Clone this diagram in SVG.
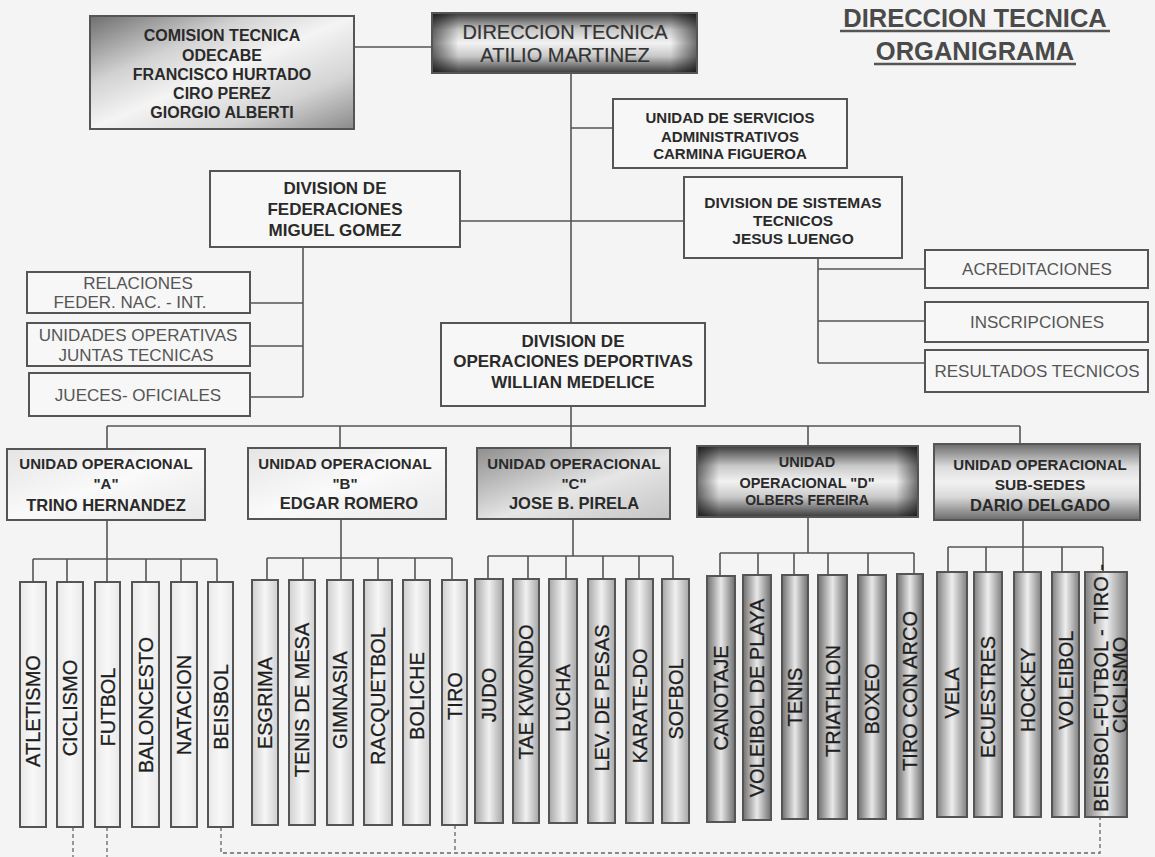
<svg xmlns="http://www.w3.org/2000/svg" width="1155" height="857" viewBox="0 0 1155 857">
<defs>
<style>
.bx{stroke:#555;stroke-width:2}
.lt{fill:#f7f7f7}
.ln{stroke:#555;stroke-width:1.6;fill:none}
.ds{stroke:#666;stroke-width:1.3;fill:none;stroke-dasharray:4 3}
.tb{font-family:"Liberation Sans",Arial,sans-serif;font-weight:bold;fill:#2a2a2a;text-anchor:middle}
.tr{font-family:"Liberation Sans",Arial,sans-serif;fill:#555;text-anchor:middle;font-size:17px}
.sp{font-family:"Liberation Sans",Arial,sans-serif;fill:#1e1e1e;stroke:#1e1e1e;stroke-width:0.3;text-anchor:middle;font-size:20px}
.ttl{font-family:"Liberation Sans",Arial,sans-serif;font-weight:bold;fill:#4a4a4a;text-anchor:middle;font-size:25.5px}
.dt{font-family:"Liberation Sans",Arial,sans-serif;fill:#333;stroke:#333;stroke-width:0.2;text-anchor:middle;font-size:20px}
</style>
<linearGradient id="gCom" x1="0" y1="0" x2="1" y2="1">
<stop offset="0" stop-color="#6e6e6e"/><stop offset="0.3" stop-color="#d2d2d2"/><stop offset="0.5" stop-color="#f4f4f4"/><stop offset="0.75" stop-color="#d4d4d4"/><stop offset="1" stop-color="#8a8a8a"/>
</linearGradient>
<linearGradient id="gDarkV" x1="0" y1="0" x2="0" y2="1">
<stop offset="0" stop-color="#3a3a3a"/><stop offset="0.28" stop-color="#c8c8c8"/><stop offset="0.5" stop-color="#f2f2f2"/><stop offset="0.72" stop-color="#c8c8c8"/><stop offset="1" stop-color="#3a3a3a"/>
</linearGradient>
<linearGradient id="gEdgeH" x1="0" y1="0" x2="1" y2="0">
<stop offset="0" stop-color="#000" stop-opacity="0.55"/><stop offset="0.1" stop-color="#000" stop-opacity="0"/><stop offset="0.9" stop-color="#000" stop-opacity="0"/><stop offset="1" stop-color="#000" stop-opacity="0.55"/>
</linearGradient>
<linearGradient id="gUA" x1="0" y1="0" x2="1" y2="1">
<stop offset="0" stop-color="#e4e4e4"/><stop offset="0.5" stop-color="#fafafa"/><stop offset="1" stop-color="#e8e8e8"/>
</linearGradient>
<linearGradient id="gUC" x1="0" y1="0" x2="1" y2="1">
<stop offset="0" stop-color="#8e8e8e"/><stop offset="0.55" stop-color="#e6e6e6"/><stop offset="1" stop-color="#c4c4c4"/>
</linearGradient>
<linearGradient id="gUE" x1="0" y1="0" x2="0" y2="1">
<stop offset="0" stop-color="#6a6a6a"/><stop offset="0.3" stop-color="#dcdcdc"/><stop offset="0.5" stop-color="#f2f2f2"/><stop offset="0.7" stop-color="#d8d8d8"/><stop offset="1" stop-color="#6a6a6a"/>
</linearGradient>
<linearGradient id="cA" x1="0" y1="0" x2="1" y2="0">
<stop offset="0" stop-color="#e8e8e8"/><stop offset="0.5" stop-color="#f8f8f8"/><stop offset="1" stop-color="#e8e8e8"/>
</linearGradient>
<linearGradient id="cB" x1="0" y1="0" x2="1" y2="0">
<stop offset="0" stop-color="#cfcfcf"/><stop offset="0.5" stop-color="#f6f6f6"/><stop offset="1" stop-color="#cfcfcf"/>
</linearGradient>
<linearGradient id="cC" x1="0" y1="0" x2="1" y2="0">
<stop offset="0" stop-color="#a6a6a6"/><stop offset="0.5" stop-color="#f0f0f0"/><stop offset="1" stop-color="#a6a6a6"/>
</linearGradient>
<linearGradient id="cD" x1="0" y1="0" x2="1" y2="0">
<stop offset="0" stop-color="#6e6e6e"/><stop offset="0.5" stop-color="#e8e8e8"/><stop offset="1" stop-color="#6e6e6e"/>
</linearGradient>
<linearGradient id="cE" x1="0" y1="0" x2="1" y2="0">
<stop offset="0" stop-color="#808080"/><stop offset="0.5" stop-color="#eeeeee"/><stop offset="1" stop-color="#808080"/>
</linearGradient>
</defs>
<rect width="1155" height="857" fill="#f4f4f4"/>

<g id="titulo">
<text class="ttl" x="975" y="27">DIRECCION TECNICA</text>
<text class="ttl" x="975" y="60">ORGANIGRAMA</text>
<line x1="840" y1="31" x2="1110" y2="31" stroke="#555" stroke-width="2.5"/>
<line x1="874" y1="64" x2="1076" y2="64" stroke="#555" stroke-width="2.5"/>
</g>

<g id="connectors">
<line class="ln" x1="354" y1="47" x2="432" y2="47"/>
<line class="ln" x1="571" y1="73" x2="571" y2="323"/>
<line class="ln" x1="571" y1="128" x2="613" y2="128"/>
<line class="ln" x1="460" y1="221" x2="684" y2="221"/>
<line class="ln" x1="303" y1="247" x2="303" y2="397"/>
<line class="ln" x1="250" y1="303" x2="303" y2="303"/>
<line class="ln" x1="250" y1="346" x2="303" y2="346"/>
<line class="ln" x1="250" y1="397" x2="303" y2="397"/>
<line class="ln" x1="818" y1="258" x2="818" y2="363"/>
<line class="ln" x1="818" y1="269" x2="925" y2="269"/>
<line class="ln" x1="818" y1="321" x2="925" y2="321"/>
<line class="ln" x1="818" y1="363" x2="925" y2="363"/>
<line class="ln" x1="571" y1="406" x2="571" y2="448"/>
<line class="ln" x1="107" y1="426" x2="1020" y2="426"/>
<line class="ln" x1="107" y1="426" x2="107" y2="449"/>
<line class="ln" x1="340" y1="426" x2="340" y2="448"/>
<line class="ln" x1="808" y1="426" x2="808" y2="446"/>
<line class="ln" x1="1020" y1="426" x2="1020" y2="444"/>
<line class="ln" x1="107" y1="520" x2="107" y2="582"/>
<line class="ln" x1="33" y1="559" x2="217" y2="559"/>
<path class="ln" d="M33 559V582M67 559V582M146 559V582M181 559V582M217 559V582"/>
<line class="ln" x1="341" y1="519" x2="341" y2="580"/>
<line class="ln" x1="267" y1="558" x2="452" y2="558"/>
<path class="ln" d="M267 558V580M303 558V580M378 558V580M415 558V580M452 558V580"/>
<line class="ln" x1="573" y1="519" x2="573" y2="556"/>
<line class="ln" x1="488" y1="556" x2="673" y2="556"/>
<path class="ln" d="M488 556V579M528 556V579M566 556V579M603 556V579M639 556V579M673 556V579"/>
<line class="ln" x1="808" y1="517" x2="808" y2="553"/>
<line class="ln" x1="720" y1="553" x2="914" y2="553"/>
<path class="ln" d="M720 553V576M758 553V575M794 553V575M828 553V575M868 553V575M914 553V574"/>
<line class="ln" x1="1023" y1="520" x2="1023" y2="572"/>
<line class="ln" x1="948" y1="547" x2="1103" y2="547"/>
<path class="ln" d="M948 547V572M986 547V572M1062 547V572M1103 547V572"/>
<path class="ds" d="M73 827V857M107 827V857M221 827V853H1100V817M455 825V853"/>
</g>

<g id="comision">
<rect class="bx" x="90" y="16" width="264" height="113" fill="url(#gCom)"/>
<g class="tb" font-size="16">
<text x="222" y="40.5">COMISION TECNICA</text>
<text x="222" y="60.5">ODECABE</text>
<text x="222" y="79.5">FRANCISCO HURTADO</text>
<text x="222" y="98.5">CIRO PEREZ</text>
<text x="222" y="117.5">GIORGIO ALBERTI</text>
</g>
</g>

<g id="direccion">
<rect x="432" y="13" width="265" height="60" fill="url(#gDarkV)"/>
<rect class="bx" x="432" y="13" width="265" height="60" fill="url(#gEdgeH)"/>
<text class="dt" x="565" y="39">DIRECCION TECNICA</text>
<text class="dt" x="565" y="62">ATILIO MARTINEZ</text>
</g>

<g id="servicios">
<rect class="bx lt" x="613" y="99" width="234" height="69"/>
<g class="tb" font-size="15">
<text x="730" y="122.5">UNIDAD DE SERVICIOS</text>
<text x="730" y="141.5">ADMINISTRATIVOS</text>
<text x="730" y="158.5">CARMINA FIGUEROA</text>
</g>
</g>

<g id="sistemas">
<rect class="bx lt" x="684" y="177" width="218" height="81"/>
<g class="tb" font-size="15.5">
<text x="793" y="207.5">DIVISION DE SISTEMAS</text>
<text x="793" y="225.5">TECNICOS</text>
<text x="793" y="243.5">JESUS LUENGO</text>
</g>
</g>

<g id="federaciones">
<rect class="bx lt" x="210" y="171" width="250" height="76"/>
<g class="tb" font-size="17">
<text x="335" y="194">DIVISION DE</text>
<text x="335" y="215">FEDERACIONES</text>
<text x="335" y="236">MIGUEL GOMEZ</text>
</g>
</g>

<g id="relaciones">
<rect class="bx lt" x="27" y="272" width="223" height="41"/>
<text class="tr" x="138" y="289">RELACIONES</text>
<text class="tr" x="130" y="308">FEDER. NAC. - INT.</text>
</g>
<g id="unidades-operativas">
<rect class="bx lt" x="27" y="323" width="223" height="43"/>
<text class="tr" x="138" y="341">UNIDADES OPERATIVAS</text>
<text class="tr" x="136" y="361">JUNTAS TECNICAS</text>
</g>
<g id="jueces">
<rect class="bx lt" x="29" y="373" width="221" height="43"/>
<text class="tr" x="138" y="401">JUECES- OFICIALES</text>
</g>

<g id="acreditaciones">
<rect class="bx lt" x="925" y="250" width="223" height="38"/>
<text class="tr" x="1037" y="275">ACREDITACIONES</text>
</g>
<g id="inscripciones">
<rect class="bx lt" x="925" y="302" width="223" height="40"/>
<text class="tr" x="1037" y="328">INSCRIPCIONES</text>
</g>
<g id="resultados">
<rect class="bx lt" x="925" y="350" width="223" height="42"/>
<text class="tr" x="1037" y="377">RESULTADOS TECNICOS</text>
</g>

<g id="operaciones">
<rect class="bx lt" x="441" y="323" width="264" height="83"/>
<g class="tb" font-size="17">
<text x="573" y="347">DIVISION DE</text>
<text x="573" y="367">OPERACIONES DEPORTIVAS</text>
<text x="573" y="388">WILLIAN MEDELICE</text>
</g>
</g>

<g id="unidad-a">
<rect class="bx" x="7" y="449" width="198" height="71" fill="url(#gUA)"/>
<text class="tb" x="106" y="469" font-size="15">UNIDAD OPERACIONAL</text>
<text class="tb" x="106" y="489" font-size="15">"A"</text>
<text class="tb" x="106" y="511" font-size="16.5">TRINO HERNANDEZ</text>
</g>
<g id="unidad-b">
<rect class="bx" x="248" y="448" width="198" height="71" fill="url(#gUA)"/>
<text class="tb" x="345" y="469" font-size="15">UNIDAD OPERACIONAL</text>
<text class="tb" x="345" y="489" font-size="15">"B"</text>
<text class="tb" x="349" y="509" font-size="16.5">EDGAR ROMERO</text>
</g>
<g id="unidad-c">
<rect class="bx" x="477" y="448" width="193" height="71" fill="url(#gUC)"/>
<text class="tb" x="574" y="469" font-size="15">UNIDAD OPERACIONAL</text>
<text class="tb" x="574" y="489" font-size="15">"C"</text>
<text class="tb" x="574" y="509" font-size="16.5">JOSE B. PIRELA</text>
</g>
<g id="unidad-d">
<rect x="697" y="446" width="221" height="71" fill="url(#gDarkV)"/>
<rect class="bx" x="697" y="446" width="221" height="71" fill="url(#gEdgeH)"/>
<text class="tb" x="807" y="467" font-size="14.5">UNIDAD</text>
<text class="tb" x="807" y="488" font-size="14.5">OPERACIONAL "D"</text>
<text class="tb" x="807" y="505" font-size="14">OLBERS FEREIRA</text>
</g>
<g id="unidad-e">
<rect class="bx" x="934" y="444" width="206" height="76" fill="url(#gUE)"/>
<text class="tb" x="1040" y="470" font-size="15">UNIDAD OPERACIONAL</text>
<text class="tb" x="1040" y="490" font-size="15.5">SUB-SEDES</text>
<text class="tb" x="1040" y="511" font-size="16.5">DARIO DELGADO</text>
</g>

<g id="deportes-a">
<g id="atletismo"><rect class="bx" x="20" y="582" width="26" height="245" fill="url(#cA)"/><text class="sp" transform="translate(33,711) rotate(-90)" dy="0.36em">ATLETISMO</text></g>
<g id="ciclismo"><rect class="bx" x="57" y="582" width="26" height="245" fill="url(#cA)"/><text class="sp" transform="translate(70,708) rotate(-90)" dy="0.36em">CICLISMO</text></g>
<g id="futbol"><rect class="bx" x="95" y="582" width="25" height="245" fill="url(#cA)"/><text class="sp" transform="translate(107.5,707) rotate(-90)" dy="0.36em">FUTBOL</text></g>
<g id="baloncesto"><rect class="bx" x="132" y="582" width="27" height="245" fill="url(#cA)"/><text class="sp" transform="translate(145.5,705) rotate(-90)" dy="0.36em">BALONCESTO</text></g>
<g id="natacion"><rect class="bx" x="171" y="582" width="26" height="245" fill="url(#cA)"/><text class="sp" transform="translate(184,705) rotate(-90)" dy="0.36em">NATACION</text></g>
<g id="beisbol"><rect class="bx" x="208" y="582" width="25" height="245" fill="url(#cA)"/><text class="sp" transform="translate(220.5,707) rotate(-90)" dy="0.36em">BEISBOL</text></g>
</g>

<g id="deportes-b">
<g id="esgrima"><rect class="bx" x="252" y="580" width="26" height="245" fill="url(#cB)"/><text class="sp" transform="translate(265,703) rotate(-90)" dy="0.36em">ESGRIMA</text></g>
<g id="tenis-mesa"><rect class="bx" x="289" y="580" width="26" height="245" fill="url(#cB)"/><text class="sp" transform="translate(302,700) rotate(-90)" dy="0.36em">TENIS DE MESA</text></g>
<g id="gimnasia"><rect class="bx" x="327" y="580" width="26" height="245" fill="url(#cB)"/><text class="sp" transform="translate(340,700) rotate(-90)" dy="0.36em">GIMNASIA</text></g>
<g id="racquetbol"><rect class="bx" x="364" y="580" width="28" height="245" fill="url(#cB)"/><text class="sp" transform="translate(378,696) rotate(-90)" dy="0.36em">RACQUETBOL</text></g>
<g id="boliche"><rect class="bx" x="403" y="580" width="27" height="245" fill="url(#cB)"/><text class="sp" transform="translate(416.5,696) rotate(-90)" dy="0.36em">BOLICHE</text></g>
<g id="tiro"><rect class="bx" x="442" y="580" width="25" height="245" fill="url(#cB)"/><text class="sp" transform="translate(454.5,696) rotate(-90)" dy="0.36em">TIRO</text></g>
</g>

<g id="deportes-c">
<g id="judo"><rect class="bx" x="475" y="579" width="28" height="244" fill="url(#cC)"/><text class="sp" transform="translate(489,695) rotate(-90)" dy="0.36em">JUDO</text></g>
<g id="tae-kwondo"><rect class="bx" x="513" y="579" width="26" height="244" fill="url(#cC)"/><text class="sp" transform="translate(526,692) rotate(-90)" dy="0.36em">TAE KWONDO</text></g>
<g id="lucha"><rect class="bx" x="549" y="579" width="28" height="244" fill="url(#cC)"/><text class="sp" transform="translate(563,698) rotate(-90)" dy="0.36em">LUCHA</text></g>
<g id="pesas"><rect class="bx" x="588" y="579" width="27" height="244" fill="url(#cC)"/><text class="sp" transform="translate(601.5,698) rotate(-90)" dy="0.36em">LEV. DE PESAS</text></g>
<g id="karate"><rect class="bx" x="626" y="579" width="27" height="244" fill="url(#cC)"/><text class="sp" transform="translate(639.5,706) rotate(-90)" dy="0.36em">KARATE-DO</text></g>
<g id="sofbol"><rect class="bx" x="662" y="579" width="27" height="244" fill="url(#cC)"/><text class="sp" transform="translate(675.5,699) rotate(-90)" dy="0.36em">SOFBOL</text></g>
</g>

<g id="deportes-d">
<g id="canotaje"><rect class="bx" x="707" y="576" width="28" height="246" fill="url(#cD)"/><text class="sp" transform="translate(721,698) rotate(-90)" dy="0.36em">CANOTAJE</text></g>
<g id="voleibol-playa"><rect class="bx" x="743" y="575" width="28" height="245" fill="url(#cD)"/><text class="sp" transform="translate(757,698) rotate(-90)" dy="0.36em">VOLEIBOL DE PLAYA</text></g>
<g id="tenis"><rect class="bx" x="782" y="575" width="26" height="244" fill="url(#cD)"/><text class="sp" transform="translate(795,697) rotate(-90)" dy="0.36em">TENIS</text></g>
<g id="triathlon"><rect class="bx" x="818" y="575" width="29" height="244" fill="url(#cD)"/><text class="sp" transform="translate(832.5,701) rotate(-90)" dy="0.36em">TRIATHLON</text></g>
<g id="boxeo"><rect class="bx" x="858" y="575" width="28" height="244" fill="url(#cD)"/><text class="sp" transform="translate(872,699) rotate(-90)" dy="0.36em">BOXEO</text></g>
<g id="tiro-arco"><rect class="bx" x="897" y="574" width="26" height="245" fill="url(#cD)"/><text class="sp" transform="translate(910,691) rotate(-90)" dy="0.36em">TIRO CON ARCO</text></g>
</g>

<g id="deportes-e">
<g id="vela"><rect class="bx" x="937" y="572" width="30" height="245" fill="url(#cE)"/><text class="sp" transform="translate(952,693) rotate(-90)" dy="0.36em">VELA</text></g>
<g id="ecuestres"><rect class="bx" x="974" y="572" width="28" height="245" fill="url(#cE)"/><text class="sp" transform="translate(988,697) rotate(-90)" dy="0.36em">ECUESTRES</text></g>
<g id="hockey"><rect class="bx" x="1014" y="572" width="27" height="245" fill="url(#cE)"/><text class="sp" transform="translate(1027.5,690) rotate(-90)" dy="0.36em">HOCKEY</text></g>
<g id="voleibol"><rect class="bx" x="1052" y="572" width="27" height="245" fill="url(#cE)"/><text class="sp" transform="translate(1065.5,680) rotate(-90)" dy="0.36em">VOLEIBOL</text></g>
<g id="subsedes-multi"><rect class="bx" x="1085" y="572" width="42" height="245" fill="url(#cE)"/>
<text class="sp" font-size="15.5" stroke-width="0.25" transform="translate(1101,688) rotate(-90)" dy="0.36em">BEISBOL-FUTBOL - TIRO -</text>
<text class="sp" font-size="15.5" stroke-width="0.25" transform="translate(1120,685) rotate(-90)" dy="0.36em">CICLISMO</text>
</g>
</g>
</svg>
